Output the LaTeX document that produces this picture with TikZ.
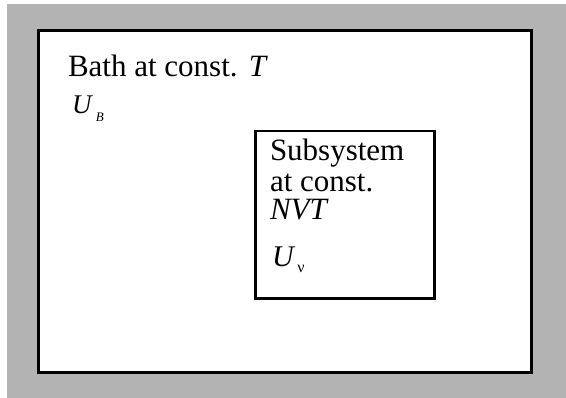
\documentclass[tikz,border=0pt]{standalone}
\usepackage{fontspec}
\setmainfont{Liberation Serif}
\definecolor{bggray}{RGB}{179,179,179}
\tikzset{
  lbl/.style={anchor=base west, inner sep=0pt, outer sep=0pt},
  big/.style={font=\fontsize{31}{31}\selectfont},
  mid/.style={font=\fontsize{27}{27}\selectfont},
  frame/.style={draw=black, line width=3pt, fill=white},
  subframe/.style={draw=black, line width=2.4pt, fill=white}
}
\begin{document}
\begin{tikzpicture}[x=1pt,y=-1pt]
\useasboundingbox (0,0) rectangle (566,398);
\fill[white] (0,0) rectangle (566,398);
\fill[bggray] (7,4) rectangle (566,398);
\draw[frame] (38.5,31) rectangle (531.5,373);
\draw[subframe] (255.5,131) rectangle (434.5,298.5);
\node[lbl,big] (bath) at (68,77) {Bath at const. \hspace{1pt}\textit{T}};
\node[lbl,mid] (ub) at (72,114)
  {\textit{U}\hspace{3pt}\raisebox{-8pt}{\fontsize{13}{13}\selectfont\textit{B}}};
\node[lbl,big] (sub1) at (270,161) {Subsystem};
\node[lbl,big] (sub2) at (270,192) {at const.};
\node[lbl,big] (sub3) at (270,220) {\textit{NVT}};
\node[lbl,font=\fontsize{30}{30}\selectfont] (uv) at (272,267)
  {\textit{U}\hspace{2pt}\raisebox{-6pt}{\fontsize{16}{16}\selectfont ν}};
\end{tikzpicture}
\end{document}
